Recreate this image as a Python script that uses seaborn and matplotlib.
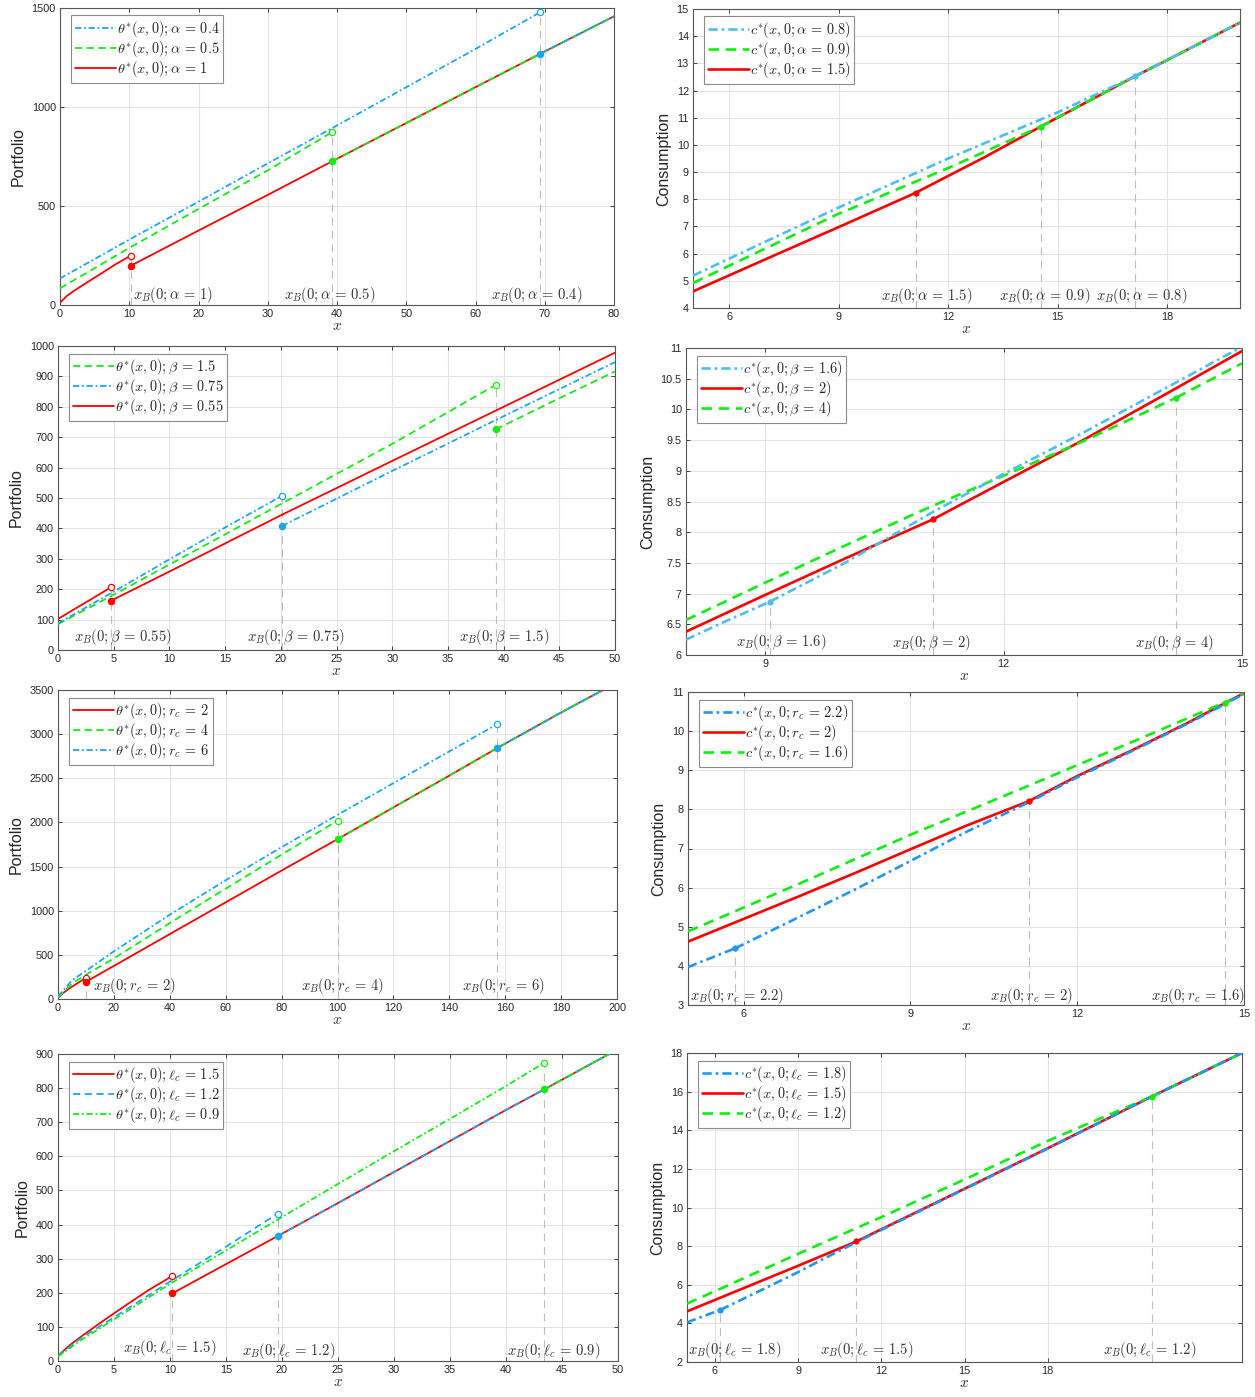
import matplotlib
matplotlib.use("Agg")
import matplotlib.pyplot as plt
from matplotlib.lines import Line2D
from matplotlib.ticker import FuncFormatter
import pandas as pd
import seaborn as sns

# ======================= DATA =======================
# Panel 1 (left): portfolio, alpha
p1_a04_pre = [(0, 134), (10, 330), (20, 522), (30, 715), (40, 907), (50, 1100), (60, 1293), (69.3, 1478)]
p1_a05_pre = [(0, 84), (10, 288), (20, 485), (30, 680), (39.3, 873)]
p1_a1_pre = [(0, 12), (1, 46), (2, 71), (4, 116), (6, 160), (8, 205), (10.2, 249)]
p1_common = [(10.2, 198), (20, 376), (30, 556), (39.3, 726), (50, 919), (60, 1100), (69.3, 1268), (80, 1458)]

# Panel 2 (right): consumption, alpha
p2_a08_pre = [(5, 5.19), (7, 6.45), (9, 7.70), (12, 9.50), (15, 11.20), (17.13, 12.53)]
p2_a09_pre = [(5, 4.92), (7, 6.20), (9, 7.47), (12, 9.15), (14.53, 10.67)]
p2_a15_pre = [(5, 4.61), (7, 5.80), (9, 6.98), (11.11, 8.24)]
p2_common = [(11.11, 8.24), (12, 8.86), (13, 9.55), (14.53, 10.67), (16, 11.72), (17.13, 12.53), (18, 13.12), (20, 14.50)]

# Panel 3 (left): portfolio, beta
p3_b15_pre = [(0, 85), (5, 182), (10, 281), (20, 480), (30, 678), (39.3, 872)]
p3_b15_post = [(39.3, 726), (45, 828), (50, 916)]
p3_b075_pre = [(0, 88), (5, 192), (10, 298), (15, 403), (20.1, 507)]
p3_b075_post = [(20.1, 408), (30, 589), (40, 769), (50, 947)]
p3_b055_pre = [(0, 102), (4.75, 206)]
p3_b055_post = [(4.75, 162), (10, 258), (20, 443), (30, 622), (40, 800), (50, 978)]

# Panel 4 (right): consumption, beta
p4_b16_pre = [(8, 6.25), (8.5, 6.55), (9.06, 6.87)]
p4_b16_post = [(9.06, 6.87), (10, 7.50), (11.11, 8.33), (12, 8.95), (13, 9.62), (14, 10.32), (15, 11.02)]
p4_b2_pre = [(8, 6.38), (9, 6.98), (10, 7.57), (11.11, 8.21)]
p4_b2_post = [(11.11, 8.21), (12, 8.82), (13, 9.50), (14, 10.22), (15, 10.95)]
p4_b4_pre = [(8, 6.57), (9, 7.18), (10, 7.78), (11, 8.37), (12, 8.92), (13, 9.48), (14.17, 10.19)]
p4_b4_post = [(14.17, 10.19), (15, 10.75)]

# Panel 5 (left): portfolio, r_c
p5_r2_pre = [(0, 15), (2, 72), (5, 140), (8, 200), (10, 240)]
p5_r4_pre = [(0, 18), (5, 175), (10, 275), (20, 460), (40, 860), (60, 1250), (80, 1635), (100, 2020)]
p5_r6_pre = [(0, 30), (5, 210), (10, 320), (20, 540), (40, 955), (60, 1345), (80, 1720), (100, 2085),
             (120, 2445), (140, 2805), (157, 3110)]
p5_common = [(10, 195), (20, 375), (40, 735), (60, 1095), (80, 1455), (100, 1810), (120, 2170),
             (140, 2530), (157, 2840), (180, 3245), (195, 3500)]

# Panel 6 (right): consumption, r_c
p6_r22_pre = [(5, 3.97), (5.85, 4.45)]
p6_r22_post = [(5.85, 4.45), (7, 5.25), (8, 5.95), (9, 6.68), (10, 7.42), (11.13, 8.18),
               (12, 8.82), (13, 9.50), (14, 10.20), (15, 10.95)]
p6_r2_pre = [(5, 4.62), (6, 5.20), (7, 5.78), (8, 6.37), (9, 6.98), (10, 7.58), (11.13, 8.21)]
p6_r16_pre = [(5, 4.88), (7, 6.10), (9, 7.35), (11, 8.53), (13, 9.73), (14.66, 10.74)]
p6_common = [(11.13, 8.21), (12, 8.85), (13, 9.52), (14, 10.22), (14.66, 10.72), (15, 10.97)]

# Panel 7 (left): portfolio, l_c
p7_l15_pre = [(0, 15), (1, 45), (2, 70), (4, 117), (6, 162), (8, 206), (10.2, 249)]
p7_l12_pre = [(0, 15), (2, 66), (5, 128), (10, 233), (15, 335), (19.6, 432)]
p7_l09_pre = [(0, 13), (2, 60), (5, 122), (10, 226), (15, 324), (20, 422), (25, 519), (30, 615),
              (35, 710), (40, 806), (43.4, 874)]
p7_common = [(10.2, 198), (15, 284), (19.6, 366), (25, 463), (30, 554), (35, 645), (40, 736),
             (43.4, 796), (50, 914)]

# Panel 8 (right): consumption, l_c
p8_l18_pre = [(5, 4.05), (6.2, 4.70)]
p8_l18_post = [(6.2, 4.70), (7, 5.25), (8, 5.95), (9, 6.65), (10, 7.40), (11.1, 8.20),
               (15, 10.95), (18, 13.05), (21.74, 15.74), (25, 18.0)]
p8_l15_pre = [(5, 4.62), (7, 5.80), (9, 6.98), (11.1, 8.24)]
p8_l12_pre = [(5, 5.02), (9, 7.60), (12, 9.50), (15, 11.45), (18, 13.45), (21.74, 15.74)]
p8_common = [(11.1, 8.24), (15, 10.97), (18, 13.07), (21.74, 15.74), (25, 18.0)]

# ======================= STYLE =======================
sns.set_theme(style="whitegrid")
plt.rcParams.update({
    "font.family": ["Liberation Sans", "DejaVu Sans"],
    "mathtext.fontset": "cm",
    "axes.edgecolor": "#555555",
    "axes.linewidth": 0.8,
    "grid.color": "#E3E3E3",
    "grid.linewidth": 0.8,
    "xtick.direction": "in",
    "ytick.direction": "in",
    "xtick.color": "#262626",
    "ytick.color": "#262626",
    "xtick.major.size": 3,
    "ytick.major.size": 3,
    "xtick.major.width": 0.6,
    "ytick.major.width": 0.6,
    "xtick.top": True,
    "ytick.right": True,
    "xtick.bottom": True,
    "ytick.left": True,
})

RED = "#FF0000"
GREEN = "#11EE11"
BLUE = "#1AA7EC"
LBLUE = "#4DBEEE"
DBLUE = "#2196F3"
DASH = {"-": "-", "--": (0, (4.0, 2.5)), "-.": (0, (3.5, 1.5, 1.0, 1.5))}

W, H = 1255, 1397
fig = plt.figure(figsize=(W / 100, H / 100), dpi=100)


def rect(l, t, r, b):
    return [l / W, 1 - b / H, (r - l) / W, (b - t) / H]


def after(common, xb):
    return [p for p in common if p[0] >= xb - 1e-9]


def fmt(v, pos):
    return "%g" % v


def panel(box, curves, xlim, ylim, xticks, yticks, ylabel, notes, jump, lw, ms):
    ax = fig.add_axes(rect(*box))
    ax.set_xlim(*xlim)
    ax.set_ylim(*ylim)
    # vertical marker lines
    for (label, color, ls, pre, post) in curves:
        xb = pre[-1][0]
        top = max(pre[-1][1], post[0][1])
        ax.plot([xb, xb], [ylim[0], top], ls=(0, (7, 5)), color="#BDBDBD", lw=0.8, zorder=1.5)
    # lines: solid first, then dashed, then dash-dot
    rank = {"-": 0, "--": 1, "-.": 2}
    handles = {}
    for (label, color, ls, pre, post) in sorted(curves, key=lambda c: rank[c[2]]):
        d1 = pd.DataFrame(pre, columns=["x", "y"])
        d2 = pd.DataFrame(post, columns=["x", "y"])
        sns.lineplot(data=d1, x="x", y="y", ax=ax, color=color, ls=DASH[ls], lw=lw, zorder=3)
        sns.lineplot(data=d2, x="x", y="y", ax=ax, color=color, ls=DASH[ls], lw=lw, zorder=3)
        handles[label] = Line2D([], [], color=color, ls=DASH[ls], lw=lw)
    for (label, color, ls, pre, post) in curves:
        if jump:
            ax.plot([pre[-1][0]], [pre[-1][1]], "o", mfc="white", mec=color, ms=ms, mew=0.9, zorder=4)
        ax.plot([post[0][0]], [post[0][1]], "o", mfc=color, mec=color, ms=ms, mew=0.9, zorder=4)
    ax.set_xticks(xticks)
    ax.set_yticks(yticks)
    ax.xaxis.set_major_formatter(FuncFormatter(fmt))
    ax.yaxis.set_major_formatter(FuncFormatter(fmt))
    ax.tick_params(labelsize=7.8, pad=3)
    ax.grid(True)
    for s in ax.spines.values():
        s.set_visible(True)
        s.set_color("#555555")
    ax.set_xlabel(r"$x$", fontsize=11, color="#333333", labelpad=0)
    ax.set_ylabel(ylabel, fontsize=11.5, color="#262626", labelpad=4)
    for (txt, x, y) in notes:
        ax.text(x, y, txt, fontsize=10.5, color="#333333", ha="left", va="center", zorder=5)
    leg = ax.legend([handles[c[0]] for c in curves], [c[0] for c in curves],
                    loc="upper left", bbox_to_anchor=(0.02, 0.975), fontsize=10.3,
                    frameon=True, fancybox=False, framealpha=1, edgecolor="#8C8C8C",
                    borderpad=0.25, labelspacing=0.0, handlelength=2.9, handletextpad=0.05,
                    borderaxespad=0.0)
    leg.get_frame().set_linewidth(0.8)
    return ax


LW_P, LW_C = 1.3, 1.9
EQ = r"\,=\,"

# ---- Row 1 ----
panel((60, 8, 614, 305),
      [(r"$\theta^{*}(x,0);\alpha" + EQ + "0.4$", BLUE, "-.", p1_a04_pre, after(p1_common, p1_a04_pre[-1][0])),
       (r"$\theta^{*}(x,0);\alpha" + EQ + "0.5$", GREEN, "--", p1_a05_pre, after(p1_common, p1_a05_pre[-1][0])),
       (r"$\theta^{*}(x,0);\alpha" + EQ + "1$", RED, "-", p1_a1_pre, after(p1_common, p1_a1_pre[-1][0]))],
      (0, 80), (0, 1500), range(0, 81, 10), [0, 500, 1000, 1500], "Portfolio",
      [(r"$x_B(0;\alpha" + EQ + "1)$", 10.5, 50), (r"$x_B(0;\alpha" + EQ + "0.5)$", 32.4, 50),
       (r"$x_B(0;\alpha" + EQ + "0.4)$", 62.2, 50)], True, LW_P, 4.5)

panel((693, 9, 1240, 308),
      [(r"$c^{*}(x,0;\alpha" + EQ + "0.8)$", LBLUE, "-.", p2_a08_pre, after(p2_common, p2_a08_pre[-1][0])),
       (r"$c^{*}(x,0;\alpha" + EQ + "0.9)$", GREEN, "--", p2_a09_pre, after(p2_common, p2_a09_pre[-1][0])),
       (r"$c^{*}(x,0;\alpha" + EQ + "1.5)$", RED, "-", p2_a15_pre, after(p2_common, p2_a15_pre[-1][0]))],
      (5, 20), (4, 15), [6, 9, 12, 15, 18], range(4, 16), "Consumption",
      [(r"$x_B(0;\alpha" + EQ + "1.5)$", 10.16, 4.43), (r"$x_B(0;\alpha" + EQ + "0.9)$", 13.38, 4.43),
       (r"$x_B(0;\alpha" + EQ + "0.8)$", 16.06, 4.43)], False, LW_C, 3.6)

# ---- Row 2 ----
panel((58, 346, 615, 650),
      [(r"$\theta^{*}(x,0);\beta" + EQ + "1.5$", GREEN, "--", p3_b15_pre, p3_b15_post),
       (r"$\theta^{*}(x,0);\beta" + EQ + "0.75$", BLUE, "-.", p3_b075_pre, p3_b075_post),
       (r"$\theta^{*}(x,0);\beta" + EQ + "0.55$", RED, "-", p3_b055_pre, p3_b055_post)],
      (0, 50), (0, 1000), range(0, 51, 5), range(0, 1001, 100), "Portfolio",
      [(r"$x_B(0;\beta" + EQ + "0.55)$", 1.44, 42), (r"$x_B(0;\beta" + EQ + "0.75)$", 16.93, 42),
       (r"$x_B(0;\beta" + EQ + "1.5)$", 36.0, 42)], True, LW_P, 4.5)

panel((686, 348, 1242, 655),
      [(r"$c^{*}(x,0;\beta" + EQ + "1.6)$", LBLUE, "-.", p4_b16_pre, p4_b16_post),
       (r"$c^{*}(x,0;\beta" + EQ + "2)$", RED, "-", p4_b2_pre, p4_b2_post),
       (r"$c^{*}(x,0;\beta" + EQ + "4)$", GREEN, "--", p4_b4_pre, p4_b4_post)],
      (8, 15), (6, 11), [9, 12, 15], [6, 6.5, 7, 7.5, 8, 8.5, 9, 9.5, 10, 10.5, 11], "Consumption",
      [(r"$x_B(0;\beta" + EQ + "1.6)$", 8.63, 6.21), (r"$x_B(0;\beta" + EQ + "2)$", 10.59, 6.2),
       (r"$x_B(0;\beta" + EQ + "4)$", 13.65, 6.2)], False, LW_C, 3.6)

# ---- Row 3 ----
panel((58, 690, 617, 999),
      [(r"$\theta^{*}(x,0);r_c" + EQ + "2$", RED, "-", p5_r2_pre, after(p5_common, p5_r2_pre[-1][0])),
       (r"$\theta^{*}(x,0);r_c" + EQ + "4$", GREEN, "--", p5_r4_pre, after(p5_common, p5_r4_pre[-1][0])),
       (r"$\theta^{*}(x,0);r_c" + EQ + "6$", BLUE, "-.", p5_r6_pre, after(p5_common, p5_r6_pre[-1][0]))],
      (0, 200), (0, 3500), range(0, 201, 20), range(0, 3501, 500), "Portfolio",
      [(r"$x_B(0;r_c" + EQ + "2)$", 12.7, 143), (r"$x_B(0;r_c" + EQ + "4)$", 86.8, 143),
       (r"$x_B(0;r_c" + EQ + "6)$", 144.6, 143)], True, LW_P, 4.5)

panel((688, 692, 1244, 1005),
      [(r"$c^{*}(x,0;r_c" + EQ + "2.2)$", DBLUE, "-.", p6_r22_pre, p6_r22_post),
       (r"$c^{*}(x,0;r_c" + EQ + "2)$", RED, "-", p6_r2_pre, after(p6_common, p6_r2_pre[-1][0])),
       (r"$c^{*}(x,0;r_c" + EQ + "1.6)$", GREEN, "--", p6_r16_pre, after(p6_common, p6_r16_pre[-1][0]))],
      (5, 15), (3, 11), [6, 9, 12, 15], range(3, 12), "Consumption",
      [(r"$x_B(0;r_c" + EQ + "2.2)$", 5.04, 3.22), (r"$x_B(0;r_c" + EQ + "2)$", 10.43, 3.22),
       (r"$x_B(0;r_c" + EQ + "1.6)$", 13.32, 3.22)], False, LW_C, 3.6)

# ---- Row 4 ----
panel((58, 1054, 618, 1361),
      [(r"$\theta^{*}(x,0);\ell_c" + EQ + "1.5$", RED, "-", p7_l15_pre, after(p7_common, p7_l15_pre[-1][0])),
       (r"$\theta^{*}(x,0);\ell_c" + EQ + "1.2$", BLUE, "--", p7_l12_pre, after(p7_common, p7_l12_pre[-1][0])),
       (r"$\theta^{*}(x,0);\ell_c" + EQ + "0.9$", GREEN, "-.", p7_l09_pre, after(p7_common, p7_l09_pre[-1][0]))],
      (0, 50), (0, 900), range(0, 51, 5), range(0, 901, 100), "Portfolio",
      [(r"$x_B(0;\ell_c" + EQ + "1.5)$", 5.8, 37), (r"$x_B(0;\ell_c" + EQ + "1.2)$", 16.4, 30),
       (r"$x_B(0;\ell_c" + EQ + "0.9)$", 40.1, 30)], True, LW_P, 4.5)

panel((687, 1053, 1242, 1362),
      [(r"$c^{*}(x,0;\ell_c" + EQ + "1.8)$", DBLUE, "-.", p8_l18_pre, p8_l18_post),
       (r"$c^{*}(x,0;\ell_c" + EQ + "1.5)$", RED, "-", p8_l15_pre, after(p8_common, p8_l15_pre[-1][0])),
       (r"$c^{*}(x,0;\ell_c" + EQ + "1.2)$", GREEN, "--", p8_l12_pre, after(p8_common, p8_l12_pre[-1][0]))],
      (5, 25), (2, 18), [6, 9, 12, 15, 18], range(2, 19, 2), "Consumption",
      [(r"$x_B(0;\ell_c" + EQ + "1.8)$", 5.04, 2.6), (r"$x_B(0;\ell_c" + EQ + "1.5)$", 9.81, 2.6),
       (r"$x_B(0;\ell_c" + EQ + "1.2)$", 20.0, 2.6)], False, LW_C, 3.6)

fig.savefig("out.png", dpi=100, facecolor="white")
